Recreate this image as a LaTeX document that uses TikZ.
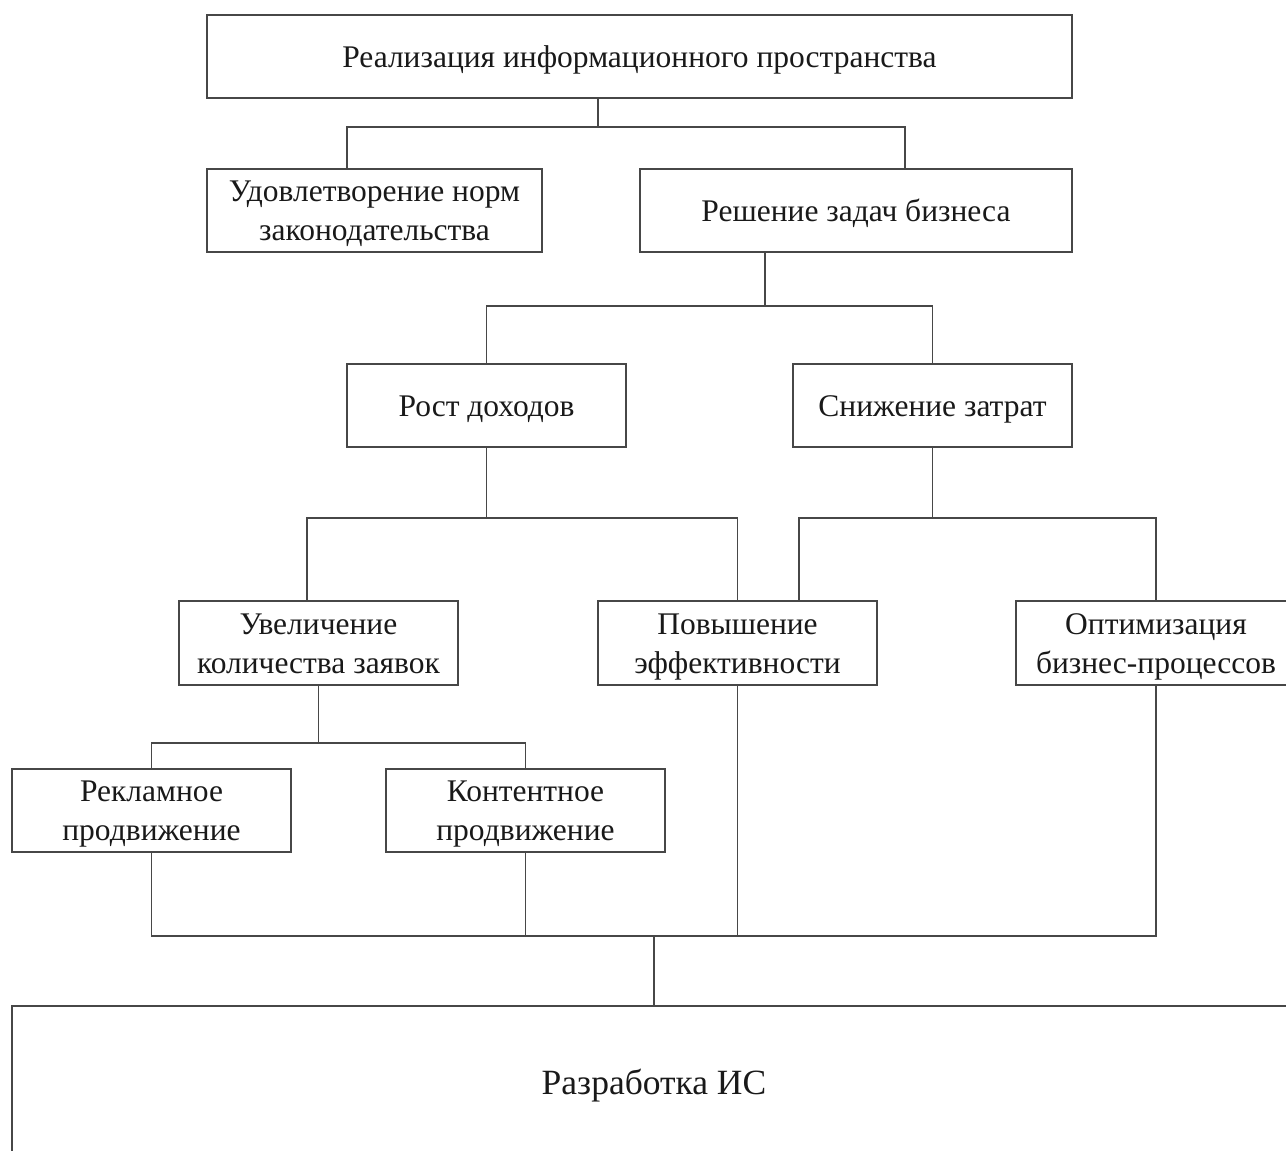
\documentclass[tikz,border=0pt]{standalone}
\usepackage{fontspec}
\setmainfont{Liberation Serif}
% line strut: fixed height and depth so every line sits at the same place
\newcommand\lnstrut{\rule[-0.22\baselineskip]{0pt}{\baselineskip}}
\begin{document}
\begin{tikzpicture}[x=1pt,y=-1pt,
  box/.style={draw=black!72, line width=1.6pt, rectangle, inner sep=0pt,
    align=center, font=\fontsize{31.5}{39}\selectfont, text=black!90},
  link/.style={draw=black!72, line width=1.6pt}]
\useasboundingbox (0,0) rectangle (1286,1151);
\clip (0,0) rectangle (1286,1151);

% boxes
\node[box, minimum width=865pt, minimum height=83pt] (top)   at (639.5,56.5)  {\lnstrut Реализация информационного пространства};
\node[box, minimum width=335pt, minimum height=83pt] (udov)  at (374.5,210.5) {\lnstrut Удовлетворение норм\\\lnstrut законодательства};
\node[box, minimum width=432pt, minimum height=83pt] (resh)  at (856,210.5)   {\lnstrut Решение задач бизнеса};
\node[box, minimum width=279pt, minimum height=83pt] (rost)  at (486.5,405.5) {\lnstrut Рост доходов};
\node[box, minimum width=279pt, minimum height=83pt] (snizh) at (932.5,405.5) {\lnstrut Снижение затрат};
\node[box, minimum width=279pt, minimum height=84pt] (uvel)  at (318.5,643)   {\lnstrut Увеличение\\\lnstrut количества заявок};
\node[box, minimum width=279pt, minimum height=84pt] (pov)   at (737.5,643)   {\lnstrut Повышение\\\lnstrut эффективности};
\node[box, minimum width=280pt, minimum height=84pt] (opt)   at (1156,643)    {\lnstrut Оптимизация\\\lnstrut бизнес-процессов};
\node[box, minimum width=279pt, minimum height=83pt] (rekl)  at (151.5,810.5) {\lnstrut Рекламное\\\lnstrut продвижение};
\node[box, minimum width=279pt, minimum height=83pt] (kont)  at (525.5,810.5) {\lnstrut Контентное\\\lnstrut продвижение};
\node[box, minimum width=1284pt, minimum height=152pt, font=\fontsize{35.5}{44}\selectfont] (razr) at (654,1082) {\lnstrut Разработка ИС};

% bus junctions
\coordinate (s1) at (598,127);  \coordinate (l1) at (347,127);  \coordinate (r1) at (905,127);
\coordinate (s2) at (765,306);
\coordinate (s3) at (486.5,518);  \coordinate (l3) at (307,518);
\coordinate (s4) at (932.5,518);  \coordinate (l4) at (799,518);
\coordinate (s5) at (318.5,743);
\coordinate (s6) at (654,936);

% connectors
\draw[link] (top.south -| s1) -- (s1);
\draw[link] (udov.north -| l1) -- (l1) -- (r1) -- (resh.north -| r1);
\draw[link] (resh.south -| s2) -- (s2);
\draw[link] (rost.north) |- (s2) -| (snizh.north);
\draw[link] (rost.south) -- (s3);
\draw[link] (uvel.north -| l3) -- (l3) -| (pov.north);
\draw[link] (snizh.south) -- (s4);
\draw[link] (pov.north -| l4) -- (l4) -| (opt.north);
\draw[link] (uvel.south) -- (s5);
\draw[link] (rekl.north) |- (s5) -| (kont.north);
\draw[link] (rekl.south) |- (s6) -| (opt.south);
\draw[link] (kont.south) -- (kont.south |- s6);
\draw[link] (pov.south) -- (pov.south |- s6);
\draw[link] (s6) -- (razr.north);
\end{tikzpicture}
\end{document}
